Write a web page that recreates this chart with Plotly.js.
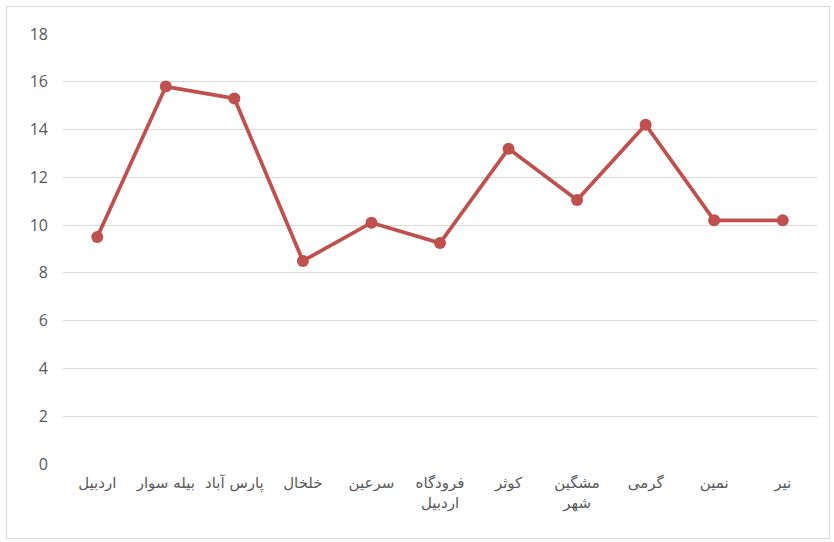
<!DOCTYPE html>
<html>
<head>
<meta charset="utf-8">
<script src="https://cdn.plot.ly/plotly-3.0.1.min.js"></script>
<style>
html,body{margin:0;padding:0;background:#fff;}
#frame{position:absolute;left:6px;top:6px;width:822px;height:531px;border:1px solid #d9d9d9;}
#chart{position:absolute;left:0;top:0;width:834px;height:542px;}
</style>
</head>
<body>
<div id="frame"></div>
<div id="chart"></div>
<script>
const categories = ["اردبیل", "بیله سوار", "پارس آباد", "خلخال", "سرعین", "فرودگاه<br>اردبیل", "کوثر", "مشگین<br>شهر", "گرمی", "نمین", "نیر"];
const values = [9.5, 15.8, 15.3, 8.5, 10.1, 9.25, 13.2, 11.05, 14.2, 10.2, 10.2];
const yTicks = [0, 2, 4, 6, 8, 10, 12, 14, 16, 18];

const trace = {
  x: categories,
  y: values,
  type: 'scatter',
  mode: 'lines+markers',
  line: {color: '#c0504d', width: 3.75},
  marker: {color: '#c0504d', size: 12},
  hoverinfo: 'none'
};

const layout = {
  width: 834,
  height: 542,
  margin: {l: 63, r: 17, t: 34, b: 78},
  paper_bgcolor: 'rgba(0,0,0,0)',
  plot_bgcolor: 'rgba(0,0,0,0)',
  showlegend: false,
  xaxis: {
    type: 'category',
    range: [-0.5, 10.5],
    autorange: false,
    showgrid: false,
    zeroline: false,
    showline: false,
    ticks: '',
    tickangle: 0,
    tickfont: {family: 'DejaVu Sans, sans-serif', size: 15, color: '#595959'},
    ticklabelstandoff: 8
  },
  yaxis: {
    range: [0, 18],
    autorange: false,
    tickvals: yTicks,
    ticktext: yTicks.map(String),
    showgrid: true,
    gridcolor: '#d9d9d9',
    gridwidth: 1,
    zeroline: false,
    showline: false,
    ticks: '',
    tickfont: {family: 'Open Sans, Liberation Sans, sans-serif', size: 16, color: '#595959'},
    ticklabelstandoff: 14
  }
};

Plotly.newPlot('chart', [trace], layout, {displayModeBar: false, staticPlot: true});
</script>
</body>
</html>
